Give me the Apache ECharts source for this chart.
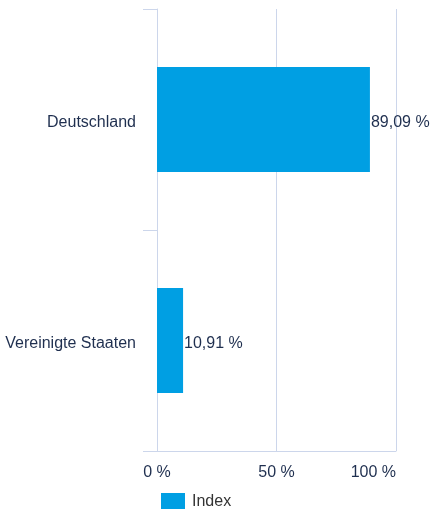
<!DOCTYPE html>
<html><head><meta charset="utf-8">
<script src="https://cdn.jsdelivr.net/npm/echarts@6/dist/echarts.min.js"></script>
<style>html,body{margin:0;padding:0;background:#fff}#c{width:430px;height:509px}</style>
</head><body><div id="c"></div>
<script>
const categories = ["Deutschland", "Vereinigte Staaten"];
const values = [89.09, 10.91];
const xTicks = [0, 50, 100];
const seriesName = "Index";

const fmt = v => String(v.toFixed(2)).replace('.', ',') + ' %';
const chart = echarts.init(document.getElementById('c'));
const lineCol = '#ccd6eb';
const txt = '#1f2f4f';
const ff = 'Liberation Sans, Arial, sans-serif';
chart.setOption({
  animation: false,
  textStyle: {fontFamily: ff},
  grid: {left: 157, right: 34, top: 9, bottom: 58, containLabel: false},
  legend: {
    data: [seriesName], left: 156, top: 488, icon: 'rect', itemWidth: 24, itemHeight: 17, itemGap: 8,
    textStyle: {fontSize: 16, color: '#333', fontFamily: ff, padding: [0, 0, 0, 2]}
  },
  xAxis: {
    type: 'value', min: xTicks[0], max: xTicks[xTicks.length - 1], interval: 50,
    axisLine: {show: true, lineStyle: {color: lineCol}},
    axisTick: {show: false},
    splitLine: {show: true, lineStyle: {color: lineCol}},
    axisLabel: {formatter: v => v + ' %', color: txt, fontSize: 16, margin: 14, alignMaxLabel: 'right'}
  },
  yAxis: {
    type: 'category', data: categories, inverse: true,
    axisLine: {show: true, lineStyle: {color: lineCol}},
    axisTick: {show: true, length: 14, lineStyle: {color: lineCol}},
    axisLabel: {color: txt, fontSize: 16, margin: 21, verticalAlign: 'top', padding: [-5, 0, 0, 0]}
  },
  series: [{
    name: seriesName, type: 'bar', data: values, barWidth: 105,
    itemStyle: {color: '#009fe3'},
    label: {show: true, position: 'right', distance: 1, offset: [0, 3], formatter: p => fmt(p.value), color: txt, fontSize: 16}
  }]
});
</script></body></html>
